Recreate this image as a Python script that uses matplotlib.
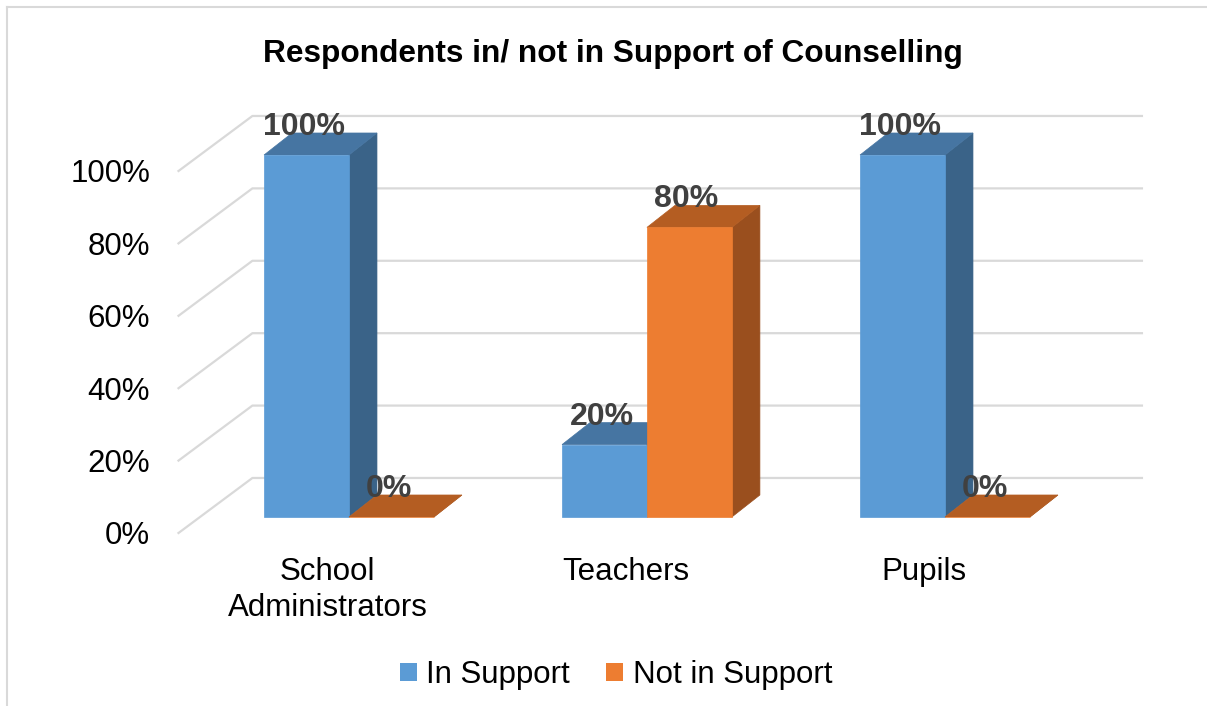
import matplotlib.pyplot as plt
from matplotlib.patches import Polygon, Patch
from matplotlib.lines import Line2D

categories = ["School\nAdministrators", "Teachers", "Pupils"]
in_support = [100, 20, 100]
not_in_support = [0, 80, 0]
series_names = ["In Support", "Not in Support"]
yticks = [0, 20, 40, 60, 80, 100]

# face colours: front, top, side
blue = ("#5B9BD5", "#4675A2", "#3A6388")
orange = ("#ED7D31", "#B45D22", "#9A4F1E")

W, H = 1207, 706
fig = plt.figure(figsize=(W / 100, H / 100), dpi=100)
ax = fig.add_axes([178.5 / W, 173 / H, 894 / W, 362 / H])
ax.set_xlim(-0.5, 2.5)
ax.set_ylim(0, 100)

# pseudo 3d geometry in data units
DX, DY = 0.248, 15.2      # full floor depth
FX, FY = 0.072, 4.42      # bar front plane offset
BX, BY = 0.094, 6.08      # bar depth
bw = 0.285

grid_c = "#D9D9D9"
for v in yticks:
    ax.plot([-0.5, -0.5 + DX, 2.5 + DX - 0.015], [v, v + DY, v + DY],
            color=grid_c, lw=1.6, clip_on=False, zorder=1)


def bar3d(x0, val, cols):
    x0 = x0 + FX
    y0 = FY
    y1 = FY + val
    x1 = x0 + bw
    front = [(x0, y0), (x1, y0), (x1, y1), (x0, y1)]
    top = [(x0, y1), (x1, y1), (x1 + BX, y1 + BY), (x0 + BX, y1 + BY)]
    side = [(x1, y0), (x1 + BX, y0 + BY), (x1 + BX, y1 + BY), (x1, y1)]
    for pts, c in zip([side, top, front], [cols[2], cols[1], cols[0]]):
        ax.add_patch(Polygon(pts, closed=True, facecolor=c, edgecolor=c,
                             lw=0.5, clip_on=False, zorder=2))
    ax.text(x0 + bw / 2 - 0.01, y1 + 5.5, f"{val}%", ha="center",
            va="baseline", fontsize=23, fontweight="bold", color="#404040",
            family="Liberation Sans", clip_on=False, zorder=3)


for i in range(len(categories)):
    bar3d(i - bw, in_support[i], blue)
    bar3d(i, not_in_support[i], orange)

for s in ax.spines.values():
    s.set_visible(False)
ax.set_yticks(yticks)
ax.set_yticklabels([f"{v}%" for v in yticks], fontsize=22.5,
                   family="Liberation Sans")
ax.set_xticks(range(len(categories)))
ax.set_xticklabels(categories, fontsize=22.5, family="Liberation Sans",
                   linespacing=1.25)
ax.tick_params(axis="y", length=0, pad=20.5)
ax.tick_params(axis="x", length=0, pad=17.5)
ax.patch.set_alpha(0)

fig.text(613 / W, 1 - 54 / H, "Respondents in/ not in Support of Counselling",
         ha="center", va="center", fontsize=22.8, fontweight="bold",
         family="Liberation Sans")

handles = [Patch(facecolor=blue[0]), Patch(facecolor=orange[0])]
fig.legend(handles, series_names, loc="center", bbox_to_anchor=(616 / W, 1 - 675 / H),
           ncol=2, frameon=False, prop={"family": "Liberation Sans", "size": 22.5},
           handlelength=0.55, handleheight=0.55, handletextpad=0.3,
           columnspacing=1.15)

border = "#D9D9D9"
fig.add_artist(Line2D([7 / W, 7 / W], [0, 1 - 7 / H], color=border, lw=1.5))
fig.add_artist(Line2D([7 / W, 1], [1 - 7 / H, 1 - 7 / H], color=border, lw=1.5))

fig.savefig("out.png", dpi=100)
